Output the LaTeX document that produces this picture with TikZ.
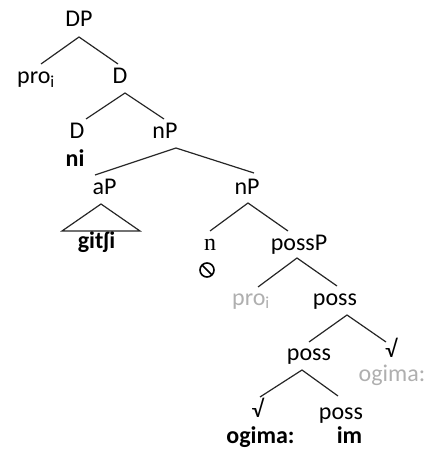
\documentclass[tikz,border=0pt]{standalone}
\usepackage{fontspec}
\setmainfont{Carlito}
\newfontfamily\serifn{Liberation Serif}
\begin{document}
\begin{tikzpicture}[x=1pt,y=-1pt,
  lab/.style={font=\fontsize{24}{28}\selectfont, inner sep=0pt, anchor=base},
  blab/.style={lab, font=\fontsize{24}{28}\selectfont\bfseries},
  glab/.style={lab, text=ghost},
  br/.style={draw=black!85, line width=1.2pt}]
\definecolor{ghost}{RGB}{175,175,175}
\useasboundingbox (0,0) rectangle (431,457);
% labels
\node[lab] (DP) at (79,27) {DP};
\node[lab] (proA) at (36,84) {pro\textsubscript{i}};
\node[lab] (D1) at (120,84) {D};
\node[lab] (D2) at (77,139) {D};
\node[lab] (nP1) at (165,139) {nP};
\node[blab] (ni) at (75,167) {ni};
\node[lab] (aP) at (104.5,194) {aP};
\node[lab] (nP2) at (247,194) {nP};
\node[blab] (gitshi) at (96.5,248) {gitʃi};
\node[lab] (n) at (210,250) {\serifn n};
\node[lab] (possP) at (299,250) {possP};
\node[inner sep=0pt, minimum size=16pt] (null) at (207,270) {};
\node[glab] (proB) at (251,305) {pro\textsubscript{i}};
\node[lab] (poss1) at (335,305) {poss};
\node[lab] (poss2) at (309,360) {poss};
\node[lab] (rootA) at (391,357) {√};
\node[glab] (ogA) at (392,381) {ogima:};
\node[lab] (rootB) at (257.5,417) {√};
\node[lab] (poss3) at (341,419) {poss};
\node[blab] (ogB) at (260.5,443) {ogima:};
\node[blab] (im) at (349.5,443) {im};
% null symbol
\draw[line width=1.6pt] (null) circle (7pt);
\draw[line width=1.6pt] ([shift={(-5,-5)}]null.center) -- ([shift={(5,5)}]null.center);
% branch points
\coordinate (a1) at (79,37);  \coordinate (l1) at (41,64);  \coordinate (r1) at (118,64);
\coordinate (a2) at (125,93); \coordinate (l2) at (86,119); \coordinate (r2) at (164,119);
\coordinate (a3) at (176,148);\coordinate (l3) at (95,175); \coordinate (r3) at (254,173);
\coordinate (a4) at (101,204);\coordinate (l4) at (62,231); \coordinate (r4) at (140,231);
\coordinate (a5) at (248,203);\coordinate (l5) at (210,231);\coordinate (r5) at (288,231);
\coordinate (a6) at (297,258);\coordinate (l6) at (258,287);\coordinate (r6) at (337,286);
\coordinate (a7) at (347,315);\coordinate (l7) at (309,342);\coordinate (r7) at (386,342);
\coordinate (a8) at (302,370);\coordinate (l8) at (260,397);\coordinate (r8) at (338,396);
\draw[br] (l1) -- (a1) -- (r1);
\draw[br] (l2) -- (a2) -- (r2);
\draw[br] (l3) -- (a3) -- (r3);
\draw[br] (l4) -- (a4) -- (r4) -- cycle;
\draw[br] (l5) -- (a5) -- (r5);
\draw[br] (l6) -- (a6) -- (r6);
\draw[br] (l7) -- (a7) -- (r7);
\draw[br] (l8) -- (a8) -- (r8);
\end{tikzpicture}
\end{document}
